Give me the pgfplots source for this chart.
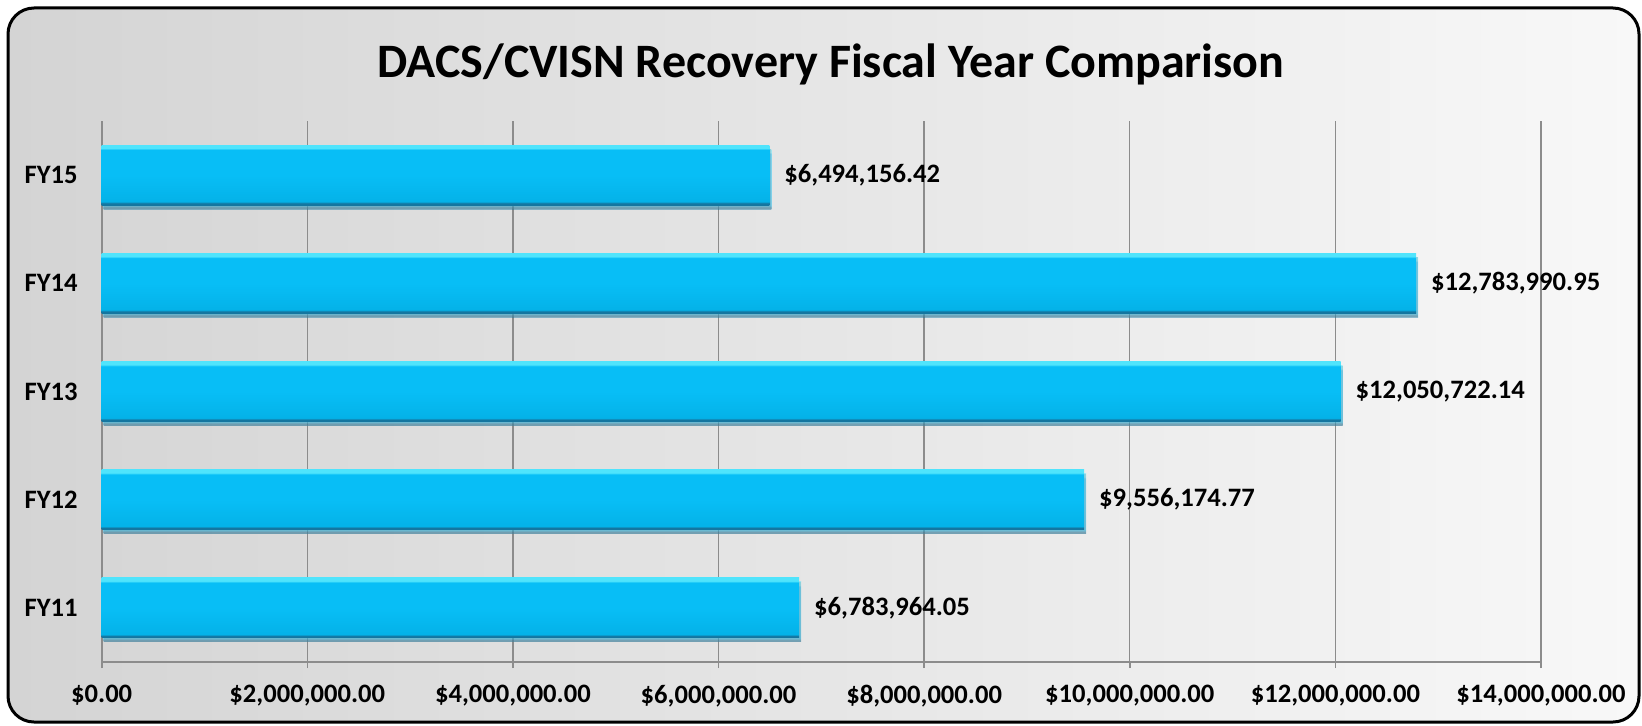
\documentclass[border=0pt]{standalone}
\usepackage{pgfplots}
\pgfplotsset{compat=1.18}
\usepackage{fontspec}
\setmainfont{Carlito}
\usetikzlibrary{shadows}
\definecolor{gridgray}{RGB}{140,140,140}
\definecolor{barDark}{RGB}{20,118,160}
\definecolor{barBody}{RGB}{8,190,246}
\definecolor{barBodyLow}{RGB}{4,178,232}
\definecolor{barLight}{RGB}{80,228,252}
\definecolor{bgLeft}{RGB}{212,212,212}
\definecolor{bgRight}{RGB}{248,248,248}
\pgfdeclareverticalshading{bevel}{100bp}{color(0bp)=(barDark); color(25bp)=(barDark); color(26.5bp)=(barDark); color(28bp)=(barBodyLow); color(50bp)=(barBody); color(71bp)=(barBody); color(72.5bp)=(barLight); color(75bp)=(barLight); color(100bp)=(barLight)}
\begin{document}
\begin{tikzpicture}
\useasboundingbox (0pt,0pt) rectangle (821pt,362.5pt);
\shade[left color=bgLeft,right color=bgRight,rounded corners=13pt,draw=black,line width=1.5pt]
  (4pt,1.5pt) rectangle (819.5pt,358.5pt);
\node[font=\fontsize{24}{29}\selectfont\bfseries] at (415.5pt,330.5pt) {DACS/CVISN Recovery Fiscal Year Comparison};
\begin{axis}[
  at={(50.85pt,31.5pt)}, anchor=south west,
  scale only axis, width=719.65pt, height=270.5pt,
  xbar, bar width=30pt, bar shift=0pt,
  xmin=0, xmax=14000000,
  ymin=-0.5, ymax=4.5,
  axis x line*=bottom, axis y line*=left,
  axis line style={gridgray, line width=0.8pt},
  xtick={0,2000000,4000000,6000000,8000000,10000000,12000000,14000000},
  xticklabels={{\$0.00},{\$2,000,000.00},{\$4,000,000.00},{\$6,000,000.00},{\$8,000,000.00},{\$10,000,000.00},{\$12,000,000.00},{\$14,000,000.00}},
  scaled x ticks=false,
  ytick={0,1,2,3,4},
  yticklabels={FY11,FY12,FY13,FY14,FY15},
  minor ytick={-0.5,0.5,1.5,2.5,3.5,4.5},
  tick align=outside,
  major tick length=3pt,
  minor tick length=3pt,
  ytick style={draw=none},
  minor tick style={gridgray, line width=0.8pt},
  xtick style={gridgray, line width=0.8pt},
  xmajorgrids, major grid style={gridgray, line width=0.7pt},
  tick label style={font=\fontsize{13.3}{16}\selectfont\bfseries},
  xticklabel style={yshift=-5pt},
  yticklabel style={xshift=-5.5pt},
  nodes near coords,
  point meta=explicit symbolic,
  every node near coord/.append style={font=\fontsize{13.3}{16}\selectfont\bfseries, anchor=west, xshift=4pt},
  barstyle/.style={draw=none, shading=bevel, drop shadow={shadow xshift=1pt, shadow yshift=-2pt, fill=black!40, opacity=0.45}},
  clip=false,
]
\addplot[barstyle] coordinates {(6783964.05,0) [\$6,783,964.05]};
\addplot[barstyle] coordinates {(9556174.77,1) [\$9,556,174.77]};
\addplot[barstyle] coordinates {(12050722.14,2) [\$12,050,722.14]};
\addplot[barstyle] coordinates {(12783990.95,3) [\$12,783,990.95]};
\addplot[barstyle] coordinates {(6494156.42,4) [\$6,494,156.42]};
\end{axis}
\end{tikzpicture}
\end{document}
